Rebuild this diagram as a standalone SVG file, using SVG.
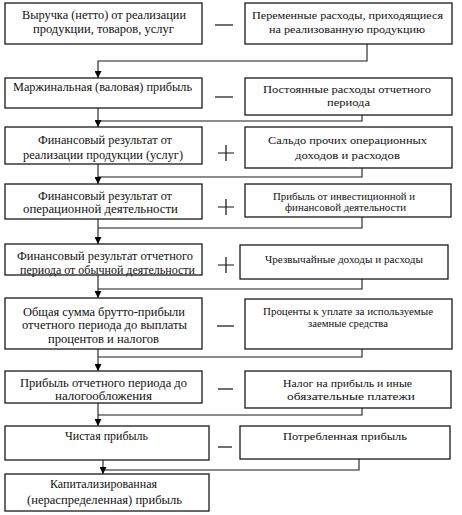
<svg xmlns="http://www.w3.org/2000/svg" width="462" height="515" viewBox="0 0 462 515">
<style>
.box{fill:#fff;stroke:#1a1a1a;stroke-width:1.3}
.t{font-size:12px;fill:#111}
.s{font-size:11px;fill:#111}
.xs{font-size:10px;fill:#111}
.c{fill:none;stroke:#1a1a1a;stroke-width:1.1}
.op{fill:none;stroke:#111;stroke-width:1.2}
</style>
<defs>
<marker id="arr" viewBox="0 0 8 8" refX="8" refY="4" markerWidth="7" markerHeight="7" markerUnits="userSpaceOnUse" orient="auto">
<path d="M0,0 L8,4 L0,8 Z" fill="#000"/>
</marker>
</defs>
<rect width="462" height="515" fill="#fff"/>
<g id="connectors">
<path class="c" d="M367,44 V61 H98 V78" marker-end="url(#arr)"/>
<path class="c" d="M98,108 V127" marker-end="url(#arr)"/>
<path class="c" d="M362,115 V121 H98"/>
<path class="c" d="M98,164 V184" marker-end="url(#arr)"/>
<path class="c" d="M362,168 V177 H98"/>
<path class="c" d="M98,219 V244" marker-end="url(#arr)"/>
<path class="c" d="M362,217 V228 H98"/>
<path class="c" d="M98,275 V298" marker-end="url(#arr)"/>
<path class="c" d="M362,279 V289 H98"/>
<path class="c" d="M98,349 V371" marker-end="url(#arr)"/>
<path class="c" d="M362,349 V357 H98"/>
<path class="c" d="M98,403 V426" marker-end="url(#arr)"/>
<path class="c" d="M362,408 V415 H98"/>
<path class="c" d="M103,460 V474" marker-end="url(#arr)"/>
<path class="c" d="M359,459 V470 H103"/>
</g>
<g id="operators">
<path class="op" d="M215,25 H233"/>
<path class="op" d="M215,97 H233"/>
<path class="op" d="M218,153 H234 M226,145 V161"/>
<path class="op" d="M218,207 H234 M226,199 V215"/>
<path class="op" d="M218,265 H234 M226,257 V273"/>
<path class="op" d="M217,326 H234"/>
<path class="op" d="M218,389 H233"/>
<path class="op" d="M218,447 H232"/>
</g>
<g id="nodes" font-family="Liberation Serif, Times New Roman, Times, serif">
<g id="n1">
<rect class="box" x="5" y="3" width="197" height="41"/>
<text class="t" x="22" y="19" textLength="164" lengthAdjust="spacingAndGlyphs">Выручка (нетто) от реализации</text>
<text class="t" x="33" y="33" textLength="141" lengthAdjust="spacingAndGlyphs">продукции, товаров, услуг</text>
</g>
<g id="n1r">
<rect class="box" x="245" y="3" width="207" height="41"/>
<text class="s" x="252" y="19" textLength="191" lengthAdjust="spacingAndGlyphs">Переменные расходы, приходящиеся</text>
<text class="s" x="269" y="33" textLength="156" lengthAdjust="spacingAndGlyphs">на реализованную продукцию</text>
</g>
<g id="n2">
<rect class="box" x="5" y="78" width="197" height="30"/>
<text class="t" x="13" y="91" textLength="179" lengthAdjust="spacingAndGlyphs">Маржинальная (валовая) прибыль</text>
</g>
<g id="n2r">
<rect class="box" x="245" y="78" width="207" height="37"/>
<text class="s" x="263" y="93" textLength="168" lengthAdjust="spacingAndGlyphs">Постоянные расходы отчетного</text>
<text class="s" x="327" y="106" textLength="43" lengthAdjust="spacingAndGlyphs">периода</text>
</g>
<g id="n3">
<rect class="box" x="5" y="127" width="197" height="37"/>
<text class="t" x="38" y="144" textLength="134" lengthAdjust="spacingAndGlyphs">Финансовый результат от</text>
<text class="t" x="23" y="159" textLength="160" lengthAdjust="spacingAndGlyphs">реализации продукции (услуг)</text>
</g>
<g id="n3r">
<rect class="box" x="245" y="127" width="207" height="41"/>
<text class="s" x="268" y="144" textLength="159" lengthAdjust="spacingAndGlyphs">Сальдо прочих операционных</text>
<text class="s" x="295" y="159" textLength="105" lengthAdjust="spacingAndGlyphs">доходов и расходов</text>
</g>
<g id="n4">
<rect class="box" x="5" y="184" width="197" height="35"/>
<text class="t" x="38" y="200" textLength="134" lengthAdjust="spacingAndGlyphs">Финансовый результат от</text>
<text class="t" x="23" y="213" textLength="155" lengthAdjust="spacingAndGlyphs">операционной деятельности</text>
</g>
<g id="n4r">
<rect class="box" x="245" y="184" width="206" height="33"/>
<text class="xs" x="273" y="200" textLength="142" lengthAdjust="spacingAndGlyphs">Прибыль от инвестиционной  и</text>
<text class="xs" x="285" y="211" textLength="121" lengthAdjust="spacingAndGlyphs">финансовой деятельности</text>
</g>
<g id="n5">
<rect class="box" x="5" y="244" width="197" height="31"/>
<text class="t" x="17" y="260" textLength="176" lengthAdjust="spacingAndGlyphs">Финансовый результат отчетного</text>
<text class="t" x="20" y="274" textLength="175" lengthAdjust="spacingAndGlyphs">периода от обычной деятельности</text>
</g>
<g id="n5r">
<rect class="box" x="240" y="245" width="208" height="34"/>
<text class="xs" x="265" y="263" textLength="158" lengthAdjust="spacingAndGlyphs">Чрезвычайные доходы и расходы</text>
</g>
<g id="n6">
<rect class="box" x="5" y="298" width="197" height="51"/>
<text class="t" x="23" y="316" textLength="162" lengthAdjust="spacingAndGlyphs">Общая сумма брутто-прибыли</text>
<text class="t" x="22" y="329" textLength="165" lengthAdjust="spacingAndGlyphs">отчетного периода до выплаты</text>
<text class="t" x="48" y="343" textLength="111" lengthAdjust="spacingAndGlyphs">процентов и налогов</text>
</g>
<g id="n6r">
<rect class="box" x="245" y="299" width="207" height="50"/>
<text class="xs" x="263" y="315" textLength="170" lengthAdjust="spacingAndGlyphs">Проценты  к уплате за используемые</text>
<text class="xs" x="308" y="327" textLength="80" lengthAdjust="spacingAndGlyphs">заемные средства</text>
</g>
<g id="n7">
<rect class="box" x="5" y="371" width="197" height="32"/>
<text class="t" x="20" y="387" textLength="167" lengthAdjust="spacingAndGlyphs">Прибыль отчетного периода до</text>
<text class="t" x="55" y="400" textLength="97" lengthAdjust="spacingAndGlyphs">налогообложения</text>
</g>
<g id="n7r">
<rect class="box" x="245" y="371" width="206" height="37"/>
<text class="s" x="283" y="387" textLength="129" lengthAdjust="spacingAndGlyphs">Налог на прибыль и иные</text>
<text class="s" x="287" y="400" textLength="128" lengthAdjust="spacingAndGlyphs">обязательные  платежи</text>
</g>
<g id="n8">
<rect class="box" x="5" y="426" width="204" height="34"/>
<text class="t" x="65" y="440" textLength="83" lengthAdjust="spacingAndGlyphs">Чистая прибыль</text>
</g>
<g id="n8r">
<rect class="box" x="240" y="426" width="210" height="33"/>
<text class="s" x="283" y="440" textLength="124" lengthAdjust="spacingAndGlyphs">Потребленная прибыль</text>
</g>
<g id="n9">
<rect class="box" x="5" y="474" width="204" height="37"/>
<text class="t" x="50" y="488" textLength="107" lengthAdjust="spacingAndGlyphs">Капитализированная</text>
<text class="t" x="27" y="504" textLength="155" lengthAdjust="spacingAndGlyphs">(нераспределенная) прибыль</text>
</g>
</g>
</svg>
